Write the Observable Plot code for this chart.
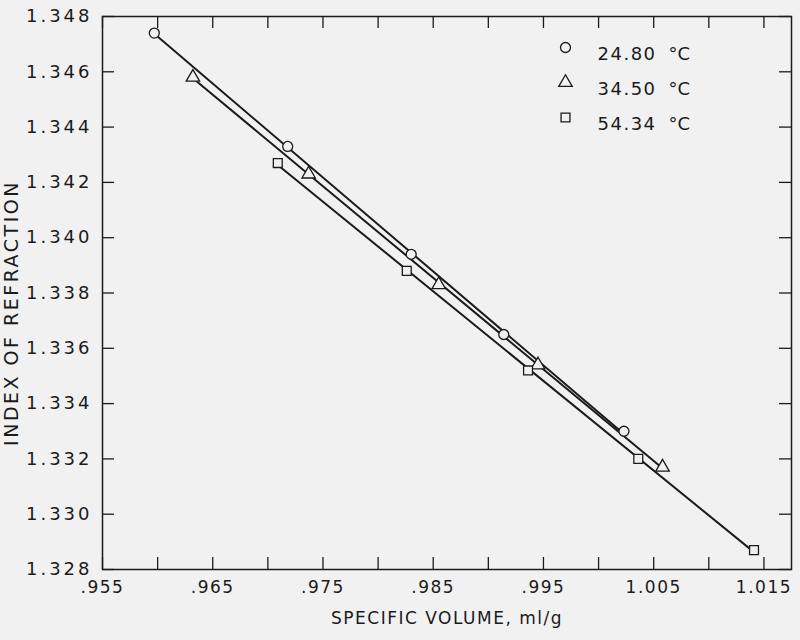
<!DOCTYPE html>
<html><head><meta charset="utf-8">
<script src="https://cdn.jsdelivr.net/npm/d3@7"></script>
<script src="https://cdn.jsdelivr.net/npm/@observablehq/plot@0.6"></script>
<style>
html,body{margin:0;padding:0;background:#f1f1f1;}
#chart{width:800px;height:640px;}
</style></head><body><div id="chart"></div>
<script>
// ---- data ----
const seriesLabels = ["24.80", "34.50", "54.34"];
const volume2480 = [0.9597, 0.9718, 0.9830, 0.9914, 1.0023];
const index2480  = [1.3474, 1.3433, 1.3394, 1.3365, 1.3330];
const volume3450 = [0.9632, 0.9737, 0.9855, 0.9945, 1.0058];
const index3450  = [1.3458, 1.3423, 1.3383, 1.3354, 1.3317];
const volume5434 = [0.9709, 0.9826, 0.9936, 1.0036, 1.0141];
const index5434  = [1.3427, 1.3388, 1.3352, 1.3320, 1.3287];

const xTickValues = [0.955, 0.960, 0.965, 0.970, 0.975, 0.980, 0.985, 0.990, 0.995, 1.000, 1.005, 1.010, 1.015];
const xLabelValues = [0.955, 0.965, 0.975, 0.985, 0.995, 1.005, 1.015];
const xLabelTexts  = [".955", ".965", ".975", ".985", ".995", "1.005", "1.015"];
const yTickValues = [1.328, 1.330, 1.332, 1.334, 1.336, 1.338, 1.340, 1.342, 1.344, 1.346, 1.348];
const yLabelTexts = ["1.328", "1.330", "1.332", "1.334", "1.336", "1.338", "1.340", "1.342", "1.344", "1.346", "1.348"];
const xTitle = "SPECIFIC VOLUME, ml/g";
const yTitle = "INDEX OF REFRACTION";
const unit = "°C";

// ---- build table ----
const volumes = [volume2480, volume3450, volume5434];
const indices = [index2480, index3450, index5434];
const rows = [];
seriesLabels.forEach((s, i) => volumes[i].forEach((v, j) => rows.push({series: s, v, n: indices[i][j]})));
const xLabels = xLabelValues.map((v, i) => ({v, t: xLabelTexts[i]}));
const yLabels = yTickValues.map((v, i) => ({v, t: yLabelTexts[i]}));

const W = 800, H = 640, mT = 16, mB = 71, mL = 102, mR = 9;
const innerH = H - mT - mB, innerW = W - mL - mR, T = 12;
const ink = "#1b1b1b", bg = "#f1f1f1";
const font = "'DejaVu Sans', sans-serif";

const legendMarks = [];
seriesLabels.forEach((s, i) => {
  legendMarks.push(Plot.dot([s], {frameAnchor: "top-left", dx: 463, dy: 31 + 35 * i, symbol: d => d, r: 5, stroke: ink, strokeWidth: 1.3, fill: bg}));
  legendMarks.push(Plot.text([s], {frameAnchor: "top-left", dx: 495, dy: 31 + 35 * i, text: d => d, textAnchor: "start", fontSize: 18, fill: ink}));
  legendMarks.push(Plot.text([unit], {frameAnchor: "top-left", dx: 566, dy: 31 + 35 * i, text: d => d, textAnchor: "start", fontSize: 18, fill: ink}));
});

const chart = Plot.plot({
  width: W, height: H,
  marginTop: mT, marginBottom: mB, marginLeft: mL, marginRight: mR,
  style: {background: bg, color: ink, fontFamily: font, overflow: "visible"},
  x: {domain: [0.955, 1.0175], axis: null},
  y: {domain: [1.328, 1.348], axis: null},
  symbol: {domain: seriesLabels, range: ["circle", "triangle", "square"]},
  marks: [
    Plot.frame({stroke: ink, strokeWidth: 1.5}),
    Plot.tickX(xTickValues, {x: d => d, insetTop: innerH - T, stroke: ink, strokeWidth: 1.3}),
    Plot.tickX(xTickValues, {x: d => d, insetBottom: innerH - T, stroke: ink, strokeWidth: 1.3}),
    Plot.tickY(yTickValues, {y: d => d, insetRight: innerW - T, stroke: ink, strokeWidth: 1.3}),
    Plot.tickY(yTickValues, {y: d => d, insetLeft: innerW - T, stroke: ink, strokeWidth: 1.3}),
    Plot.text(xLabels, {x: "v", text: "t", frameAnchor: "bottom", dy: 23, fontSize: 17, fill: ink}),
    Plot.text(yLabels, {y: "v", text: "t", frameAnchor: "left", dx: -10, textAnchor: "end", fontSize: 18, fill: ink}),
    Plot.text([xTitle], {frameAnchor: "bottom", dy: 54, text: d => d, fontSize: 17, fill: ink}),
    Plot.text([yTitle], {frameAnchor: "left", textAnchor: "middle", dx: -91, dy: 20, rotate: -90, text: d => d, fontSize: 19, fill: ink}),
    Plot.linearRegressionY(rows, {x: "v", y: "n", z: "series", ci: 0, stroke: ink, strokeWidth: 2}),
    Plot.dot(rows, {x: "v", y: "n", symbol: "series", r: 5, stroke: ink, strokeWidth: 1.3, fill: bg}),
    ...legendMarks
  ]
});
document.getElementById("chart").appendChild(chart);
// letter spacing by text role
const spacing = new Map();
yLabelTexts.forEach(t => spacing.set(t, "3px"));
xLabelTexts.forEach(t => spacing.set(t, "1.5px"));
seriesLabels.forEach(t => spacing.set(t, "1.5px"));
spacing.set(xTitle, "1.5px");
spacing.set(yTitle, "2.5px");
d3.select(chart).selectAll("text").each(function() {
  const s = spacing.get(this.textContent);
  if (s) this.style.letterSpacing = s;
});
</script></body></html>
